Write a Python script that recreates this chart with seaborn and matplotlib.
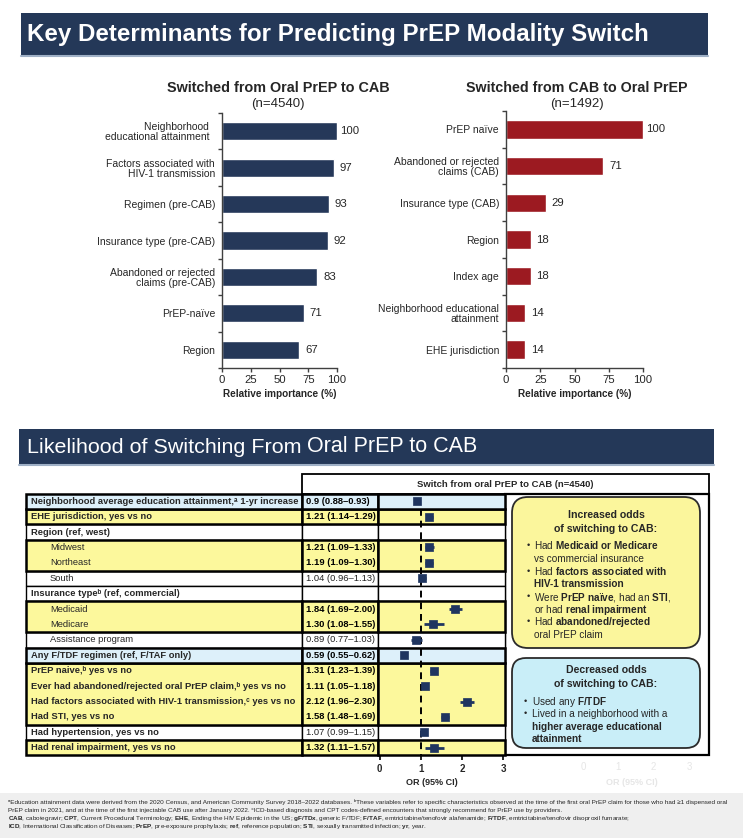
import numpy as np
import pandas as pd
import matplotlib
matplotlib.use("Agg")
import matplotlib.pyplot as plt
import seaborn as sns
from matplotlib.patches import Rectangle, FancyBboxPatch
from matplotlib import font_manager

# ---------------- data ----------------
left_labels = ["Neighborhood  \neducational attainment  ", "Factors associated with\nHIV-1 transmission",
               "Regimen (pre-CAB)", "Insurance type (pre-CAB)", "Abandoned or rejected\nclaims (pre-CAB)",
               "PrEP-naïve", "Region"]
left_values = [100, 97, 93, 92, 83, 71, 67]
right_labels = ["PrEP naïve", "Abandoned or rejected\nclaims (CAB)", "Insurance type (CAB)", "Region",
                "Index age", "Neighborhood educational\nattainment", "EHE jurisdiction"]
right_values = [100, 71, 29, 18, 18, 14, 14]
importance_ticks = [0, 25, 50, 75, 100]

forest_labels = ["Neighborhood average education attainment,ᵃ 1-yr increase", "EHE jurisdiction, yes vs no",
                 "Region (ref, west)", "Midwest", "Northeast", "South", "Insurance typeᵇ (ref, commercial)",
                 "Medicaid", "Medicare", "Assistance program", "Any F/TDF regimen (ref, F/TAF only)",
                 "PrEP naive,ᵇ yes vs no", "Ever had abandoned/rejected oral PrEP claim,ᵇ yes vs no",
                 "Had factors associated with HIV-1 transmission,ᶜ yes vs no", "Had STI, yes vs no",
                 "Had hypertension, yes vs no", "Had renal impairment, yes vs no"]
or_text = ["0.9 (0.88–0.93)", "1.21 (1.14–1.29)", "", "1.21 (1.09–1.33)", "1.19 (1.09–1.30)",
           "1.04 (0.96–1.13)", "", "1.84 (1.69–2.00)", "1.30 (1.08–1.55)", "0.89 (0.77–1.03)",
           "0.59 (0.55–0.62)", "1.31 (1.23–1.39)", "1.11 (1.05–1.18)", "2.12 (1.96–2.30)",
           "1.58 (1.48–1.69)", "1.07 (0.99–1.15)", "1.32 (1.11–1.57)"]
or_est = [0.90, 1.21, np.nan, 1.21, 1.19, 1.04, np.nan, 1.84, 1.30, 0.89, 0.59, 1.31, 1.11, 2.12, 1.58, 1.07, 1.32]
or_lo = [0.88, 1.14, np.nan, 1.09, 1.09, 0.96, np.nan, 1.69, 1.08, 0.77, 0.55, 1.23, 1.05, 1.96, 1.48, 0.99, 1.11]
or_hi = [0.93, 1.29, np.nan, 1.33, 1.30, 1.13, np.nan, 2.00, 1.55, 1.03, 0.62, 1.39, 1.18, 2.30, 1.69, 1.15, 1.57]
or_ticks = [0, 1, 2, 3]

# row styling (not data)
row_level = [0, 0, 0, 1, 1, 1, 0, 1, 1, 1, 0, 0, 0, 0, 0, 0, 0]
label_bold = [1, 1, 1, 0, 0, 0, 1, 0, 0, 0, 1, 1, 1, 1, 1, 1, 1]
value_bold = [1, 1, 0, 1, 1, 0, 0, 1, 1, 0, 1, 1, 1, 1, 1, 0, 1]
groups = [(0, 0, "blue"), (1, 1, "yellow"), (2, 2, "white"), (3, 4, "yellow"), (5, 5, "white"),
          (6, 6, "white"), (7, 8, "yellow"), (9, 9, "white"), (10, 10, "blue"), (11, 14, "yellow"),
          (15, 15, "white"), (16, 16, "yellow")]

# ---------------- style ----------------
sns.set_theme(style="white")
names = {f.name for f in font_manager.fontManager.ttflist}
NARROW = "Liberation Sans Narrow" if "Liberation Sans Narrow" in names else "Liberation Sans"
FAM = ["Liberation Sans", "DejaVu Sans"]
NFAM = [NARROW, "DejaVu Sans"]
plt.rcParams["font.family"] = FAM
plt.rcParams["mathtext.fontset"] = "custom"
plt.rcParams["mathtext.rm"] = "Liberation Sans"
plt.rcParams["mathtext.bf"] = "Liberation Sans:bold"
plt.rcParams["mathtext.it"] = "Liberation Sans:italic"

NAVY = "#243858"
BARNAVY = "#253859"
RED = "#9C1A21"
YELLOW = "#FCF89C"
LBLUE = "#DDF0FA"
BOXBLUE = "#C9EEF8"
FILLS = {"yellow": YELLOW, "blue": LBLUE, "white": "white"}

W, H = 743, 838
fig = plt.figure(figsize=(W / 100, H / 100), dpi=100)
cv = fig.add_axes([0, 0, 1, 1])
cv.set_xlim(0, W)
cv.set_ylim(H, 0)
cv.axis("off")
renderer = fig.canvas.get_renderer()


def tw(s, size, weight="normal", family=None):
    t = cv.text(0, 0, s, fontsize=size, fontweight=weight, family=family or FAM)
    w = t.get_window_extent(renderer).width
    t.remove()
    return w


def fit(s, width, weight="normal", family=None):
    return 10 * width / tw(s, 10, weight, family)


def mixed(parts):
    out = ""
    for s, b in parts:
        if b:
            core = s.strip(" ")
            lead = s[: len(s) - len(s.lstrip(" "))]
            trail = s[len(s.rstrip(" ")):]
            out += lead + r"$\mathbf{" + core.replace(" ", r"\ ") + "}$" + trail
        else:
            out += s
    return out


def line(x, y, parts, size, ha="left", family=None, zorder=6):
    """Line of text whose vertical centre (cap height) is y; parts mix regular and bold runs."""
    fam = family or FAM
    base = y + 0.36 * size * 100 / 72
    weights = {b for _, b in parts}
    if len(weights) == 1:
        s = "".join(p for p, _ in parts)
        cv.text(x, base, s, fontsize=size, fontweight="bold" if parts[0][1] else "normal",
                family=fam, ha=ha, va="baseline", zorder=zorder)
    else:
        cv.text(x, base, mixed(parts), fontsize=size, family=fam, ha=ha, va="baseline", zorder=zorder)


def px_axes(x0, y0, x1, y1):
    return fig.add_axes([x0 / W, (H - y1) / H, (x1 - x0) / W, (y1 - y0) / H])


# ---------------- banner 1 ----------------
cv.add_patch(Rectangle((21, 13), 687, 43, facecolor=NAVY, edgecolor="none", zorder=1))
cv.plot([21, 708], [56.5, 56.5], color="#9FB0C6", lw=1.5, zorder=2)
t1 = "Key Determinants for Predicting PrEP Modality Switch"
cv.text(27, 34.5, t1, fontsize=fit(t1, 624, "bold", NFAM), fontweight="bold", family=NFAM,
        color="white", va="center", ha="left", zorder=3)

# ---------------- bar charts ----------------
def bar_panel(x0, x1, ytop, labels, values, color, title, sub, tcx):
    ax = px_axes(x0, ytop, x1, 368)
    sns.barplot(x=values, y=labels, orient="h", color=color, width=0.5, ax=ax, saturation=1)
    ax.set_xlim(0, 100)
    ax.set_ylim(6.5, -0.5)
    ax.set_facecolor("none")
    for s in ["top", "right"]:
        ax.spines[s].set_visible(False)
    for s in ["left", "bottom"]:
        ax.spines[s].set_color("#404040")
        ax.spines[s].set_linewidth(1.0)
    ax.set_xticks(importance_ticks)
    ax.set_xticklabels([str(v) for v in importance_ticks], fontsize=8.2)
    ax.set_yticks(range(len(labels)))
    ax.set_yticklabels(labels, fontsize=7.5, linespacing=1.0)
    ax.set_yticks(np.arange(-0.5, len(labels), 1), minor=True)
    ax.tick_params(axis="y", which="major", length=0, pad=5)
    ax.tick_params(axis="y", which="minor", length=3, width=1, color="#404040", left=True)
    ax.tick_params(axis="x", length=3, width=1, color="#404040", pad=2, bottom=True)
    ax.set_ylabel("")
    ax.set_xlabel("Relative importance (%)", fontsize=7.2, fontweight="bold", labelpad=3)
    for i, v in enumerate(values):
        ax.annotate(str(v), (v, i), xytext=(8.8, 0), textcoords="offset points", ha="center",
                    va="center", fontsize=8.2, annotation_clip=False)
    cv.text(tcx, 88, title, fontsize=fit(title, 222, "bold"), fontweight="bold", ha="center", va="center")
    cv.text(tcx, 104, sub, fontsize=9.5, ha="center", va="center")
    return ax


bar_panel(222, 337, 113, left_labels, left_values, BARNAVY, "Switched from Oral PrEP to CAB", "(n=4540)", 278)
bar_panel(506, 643, 111, right_labels, right_values, RED, "Switched from CAB to Oral PrEP", "(n=1492)", 577)

# ---------------- banner 2 ----------------
cv.add_patch(Rectangle((19, 429), 695, 36, facecolor=NAVY, edgecolor="none", zorder=1))
cv.plot([19, 714], [465, 465], color="#9FB0C6", lw=1.5, zorder=2)
p1, p2 = "Likelihood of Switching From", "Oral PrEP to CAB"
cv.text(27, 447, p1, fontsize=fit(p1, 276, "normal", NFAM), family=NFAM, color="white", va="center", zorder=3)
cv.text(307, 446, p2, fontsize=fit(p2, 171, "normal", NFAM), family=NFAM, color="white", va="center", zorder=3)

# ---------------- table ----------------
TOP, PITCH = 493.5, 15.41
XL, XV, XP, XR, XE = 26, 302, 377.5, 505, 709
BOT = TOP + 17 * PITCH

cv.add_patch(Rectangle((XV, 474), XE - XV, TOP - 474, facecolor="white", edgecolor="black", lw=1.3, zorder=2))
cv.text((XV + XE) / 2, 484, "Switch from oral PrEP to CAB (n=4540)", fontsize=6.8, fontweight="bold",
        ha="center", va="center", zorder=3)
cv.add_patch(Rectangle((XR, TOP), XE - XR, BOT - TOP, facecolor="white", edgecolor="black", lw=1.6, zorder=2))

for fillkey in ["white", "yellow", "blue"]:
    for s, e, f in groups:
        if f != fillkey:
            continue
        y0 = TOP + s * PITCH
        h = (e - s + 1) * PITCH
        lw = 1.0 if f == "white" else 1.8
        for xa, xb in [(XL, XV), (XV, XP), (XP, XR)]:
            cv.add_patch(Rectangle((xa, y0), xb - xa, h, facecolor=FILLS[f], edgecolor="black",
                                   lw=lw, zorder=2 if f == "white" else 2.5))

lsize = fit(forest_labels[0], 265, "bold")
for i, lab in enumerate(forest_labels):
    yc = TOP + (i + 0.5) * PITCH
    x = 31 if row_level[i] == 0 else 50
    cv.text(x, yc, lab, fontsize=lsize, fontweight="bold" if label_bold[i] else "normal",
            va="center", ha="left", zorder=4)
    if or_text[i]:
        cv.text(305.5, yc, or_text[i], fontsize=lsize, fontweight="bold" if value_bold[i] else "normal",
                va="center", ha="left", zorder=4, color="black" if value_bold[i] else "#222222")

# forest axes
fa = px_axes(XP, TOP, XR, BOT)
fa.set_facecolor("none")
ppu = 41.3
fa.set_xlim((XP - 379.5) / ppu, (XR - 379.5) / ppu)
fa.set_ylim(16.5, -0.5)
for s in fa.spines.values():
    s.set_visible(False)
df = pd.DataFrame({"row": range(len(or_est)), "est": or_est, "lo": or_lo, "hi": or_hi}).dropna()
fa.vlines(1, 0.5, 16.5, colors="black", linestyles=(0, (3.5, 2.5)), lw=1.4, zorder=1)
fa.errorbar(df["est"], df["row"], xerr=[df["est"] - df["lo"], df["hi"] - df["est"]], fmt="none",
            ecolor="#1F3560", elinewidth=2.0, capsize=0, zorder=2)
sns.scatterplot(data=df, x="est", y="row", marker="s", s=38, color="#1F3560", edgecolor="#1F3560",
                linewidth=0.5, ax=fa, zorder=3, legend=False)
fa.set_ylim(16.5, -0.5)
fa.set_yticks([])
fa.set_xticks(or_ticks)
fa.set_xticklabels([str(t) for t in or_ticks], fontsize=7, fontweight="bold")
fa.tick_params(axis="x", bottom=True, length=3.5, width=1.2, color="black", pad=2.5)
fa.set_xlabel("")
fa.set_ylabel("")
cv.text(432, 782.5, "OR (95% CI)", fontsize=6.5, fontweight="bold", ha="center", va="center")

# faint ghost elements on right
ghost = "#E6E6E6"
for xg, lab in zip([583, 618, 653, 689], or_ticks):
    cv.text(xg, 767, str(lab), fontsize=7, color=ghost, ha="center", va="center", zorder=1.5)
cv.text(632, 782.5, "OR (95% CI)", fontsize=6.5, color=ghost, fontweight="bold", ha="center", va="center", zorder=1.5)

# ---------------- callout boxes ----------------
cv.add_patch(FancyBboxPatch((512, 497), 188, 151, boxstyle="round,pad=0,rounding_size=16",
                            facecolor="#FBF69C", edgecolor="#2b2b2b", lw=1.3, zorder=5))
cv.add_patch(FancyBboxPatch((512, 658), 188, 90, boxstyle="round,pad=0,rounding_size=14",
                            facecolor=BOXBLUE, edgecolor="#2b2b2b", lw=1.3, zorder=5))

TS, BS = 7.6, 7.2
line(606, 514, [("Increased odds", 1)], TS, ha="center")
line(606, 528, [("of switching to CAB:", 1)], TS, ha="center")
yl = [
    (545, True, [("Had ", 0), ("Medicaid or Medicare", 1)]),
    (558.5, False, [("vs commercial insurance", 0)]),
    (571, True, [("Had ", 0), ("factors associated with", 1)]),
    (583.5, False, [("HIV-1 transmission", 1)]),
    (596.5, True, [("Were ", 0), ("PrEP naïve", 1), (", had an ", 0), ("STI", 1), (",", 0)]),
    (609, False, [("or had ", 0), ("renal impairment", 1)]),
    (621.5, True, [("Had ", 0), ("abandoned/rejected", 1)]),
    (634, False, [("oral PrEP claim", 0)]),
]
for y, bullet, parts in yl:
    if bullet:
        cv.text(528, y, "•", fontsize=6.5, ha="center", va="center", zorder=6)
    line(534, y, parts, BS)

line(606, 669.5, [("Decreased odds", 1)], TS, ha="center")
line(606, 683.5, [("of switching to CAB:", 1)], TS, ha="center")
yl2 = [
    (701.5, True, [("Used any ", 0), ("F/TDF", 1)]),
    (713.5, True, [("Lived in a neighborhood with a", 0)]),
    (726, False, [("higher average educational", 1)]),
    (738.5, False, [("attainment", 1)]),
]
for y, bullet, parts in yl2:
    if bullet:
        cv.text(525, y, "•", fontsize=6.5, ha="center", va="center", zorder=6)
    line(532, y, parts, BS)

# ---------------- footnotes ----------------
cv.add_patch(Rectangle((0, 793), W, H - 793, facecolor="#EFEFEF", edgecolor="none", zorder=0.5))
fn1 = ("ᵃEducation attainment data were derived from the 2020 Census, and American Community Survey 2018–2022 databases. "
       "ᵇThese variables refer to specific characteristics observed at the time of the first oral PrEP claim for those who had ≥1 dispensed oral")
fs = fit(fn1, 728, "normal", NFAM)
line(8, 802, [(fn1, 0)], fs, family=NFAM)
line(8, 810, [("PrEP claim in 2021, and at the time of the first injectable CAB use after January 2022. "
               "ᶜICD-based diagnosis and CPT codes-defined encounters that strongly recommend for PrEP use by providers.", 0)],
     fs, family=NFAM)
line(8, 818, [("CAB", 1), (", cabotegravir; ", 0), ("CPT", 1), (", Current Procedural Terminology; ", 0),
              ("EHE", 1), (", Ending the HIV Epidemic in the US; ", 0), ("gF/TDx", 1), (", generic F/TDF; ", 0),
              ("F/TAF", 1), (", emtricitabine/tenofovir alafenamide; ", 0), ("F/TDF", 1),
              (", emtricitabine/tenofovir disoproxil fumarate;", 0)], fs, family=NFAM)
line(8, 826, [("ICD", 1), (", International Classification of Diseases; ", 0), ("PrEP", 1),
              (", pre-exposure prophylaxis; ", 0), ("ref", 1), (", reference population; ", 0),
              ("STI", 1), (", sexually transmitted infection; ", 0), ("yr", 1), (", year.", 0)], fs, family=NFAM)

fig.savefig("out.png", dpi=100)
